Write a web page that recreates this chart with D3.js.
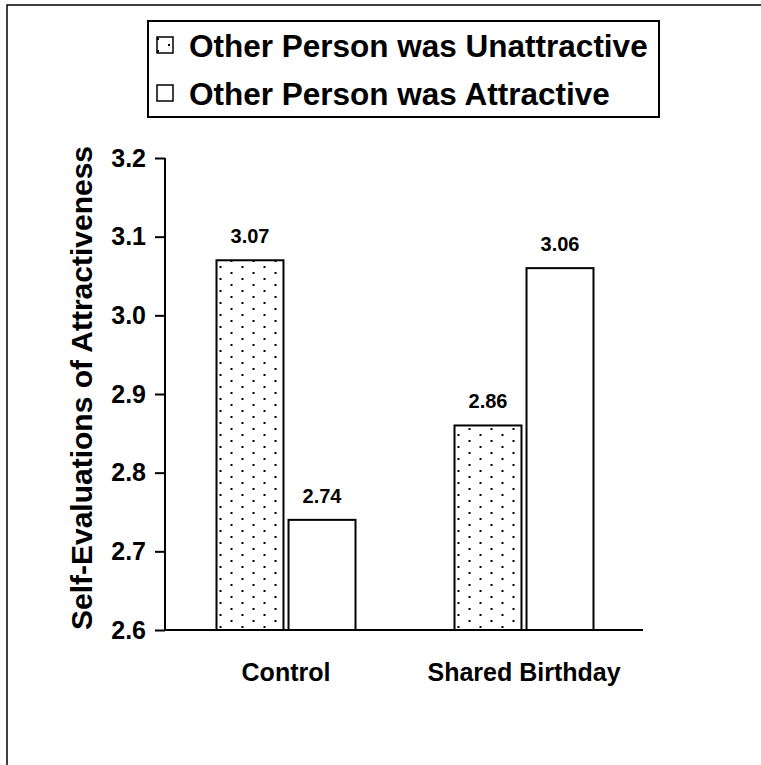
<!DOCTYPE html>
<html>
<head>
<meta charset="utf-8">
<script src="https://cdn.jsdelivr.net/npm/d3@7"></script>
<style>
  html, body { margin: 0; padding: 0; background: #fff; }
  svg { display: block; font-family: "Liberation Sans", Arial, sans-serif; font-weight: bold; }
</style>
</head>
<body>
<svg id="chart" width="761" height="765"></svg>
<script>
// Data
const categories = ["Control", "Shared Birthday"];
const seriesNames = ["Other Person was Unattractive", "Other Person was Attractive"];
const unattractive = [3.07, 2.86];
const attractive = [2.74, 3.06];
const yTicks = [2.6, 2.7, 2.8, 2.9, 3.0, 3.1, 3.2];
const yLabel = "Self-Evaluations of Attractiveness";

const rows = categories.map((c, i) => ({
  category: c,
  values: [
    { series: seriesNames[0], value: unattractive[i], idx: 0 },
    { series: seriesNames[1], value: attractive[i], idx: 1 }
  ]
}));

const svg = d3.select("#chart");
const FONT = "Liberation Sans, Arial, sans-serif";

// Dotted fill pattern for the first series (staggered 2px dots)
const defs = svg.append("defs");
const pat = defs.append("pattern")
  .attr("id", "dots")
  .attr("patternUnits", "userSpaceOnUse")
  .attr("width", 22).attr("height", 12);
pat.append("rect").attr("width", 22).attr("height", 12).attr("fill", "#fff");
pat.append("rect").attr("x", 3).attr("y", 2).attr("width", 2).attr("height", 2)
  .attr("fill", "#000").attr("shape-rendering", "crispEdges");
pat.append("rect").attr("x", 14).attr("y", 8).attr("width", 2).attr("height", 2)
  .attr("fill", "#000").attr("shape-rendering", "crispEdges");

const fills = ["url(#dots)", "#fff"];

// Outer frame (top and left edges)
svg.append("path")
  .attr("d", "M7,765 V5 H761")
  .attr("fill", "none").attr("stroke", "#000").attr("stroke-width", 1.5);

// Plot geometry
const plot = { left: 165, right: 643, top: 158, bottom: 630 };

const y = d3.scaleLinear().domain([2.6, 3.2]).range([plot.bottom, plot.top]);
const x0 = d3.scaleBand().domain(categories).range([167, plot.right])
  .paddingInner(0.416).paddingOuter(0.208);
const x1 = d3.scaleBand().domain([0, 1]).range([0, x0.bandwidth()])
  .paddingInner(0.07).paddingOuter(0);

// Bars
const groups = svg.append("g").selectAll("g")
  .data(rows).join("g")
  .attr("transform", d => `translate(${x0(d.category)},0)`);

groups.selectAll("rect")
  .data(d => d.values).join("rect")
  .attr("x", d => x1(d.idx))
  .attr("y", d => y(d.value))
  .attr("width", x1.bandwidth())
  .attr("height", d => y(2.6) - y(d.value))
  .attr("fill", d => fills[d.idx])
  .attr("stroke", "#000").attr("stroke-width", 2);

groups.selectAll("text.val")
  .data(d => d.values).join("text")
  .attr("class", "val")
  .attr("x", d => x1(d.idx) + x1.bandwidth() / 2)
  .attr("y", d => y(d.value) - 17)
  .attr("text-anchor", "middle")
  .attr("font-size", 20)
  .text(d => d.value.toFixed(2));

// Y axis
const yAxis = d3.axisLeft(y).tickValues(yTicks).tickFormat(d3.format(".1f"))
  .tickSize(10).tickPadding(9);
const gy = svg.append("g").attr("transform", `translate(${plot.left},0)`).call(yAxis);
gy.select(".domain").attr("stroke", "#000").attr("stroke-width", 2)
  .attr("d", `M0,${plot.top}V${plot.bottom}`);
gy.selectAll(".tick line").attr("stroke", "#000").attr("stroke-width", 2);
gy.selectAll(".tick text").attr("font-size", 25).attr("font-weight", "bold")
  .attr("font-family", FONT).attr("fill", "#000");

// X baseline and category labels
const xAxis = d3.axisBottom(x0).tickSize(0).tickPadding(33);
const gx = svg.append("g").attr("transform", `translate(0,${plot.bottom})`).call(xAxis);
gx.select(".domain").attr("stroke", "#000").attr("stroke-width", 2)
  .attr("d", `M${plot.left},0H${plot.right}`);
gx.selectAll(".tick text").attr("font-size", 25).attr("font-weight", "bold")
  .attr("font-family", FONT).attr("fill", "#000");

// Y axis title
svg.append("text")
  .attr("transform", `translate(92,${(plot.top + plot.bottom) / 2 - 6}) rotate(-90)`)
  .attr("text-anchor", "middle")
  .attr("font-size", 30)
  .text(yLabel);

// Legend
const legend = svg.append("g");
legend.append("rect")
  .attr("x", 148).attr("y", 21).attr("width", 511).attr("height", 96)
  .attr("fill", "#fff").attr("stroke", "#000").attr("stroke-width", 2);
const items = legend.selectAll("g.item")
  .data(seriesNames).join("g")
  .attr("class", "item")
  .attr("transform", (d, i) => `translate(0,${i * 48})`);
items.append("rect")
  .attr("x", 157).attr("y", 37).attr("width", 16).attr("height", 16)
  .attr("fill", (d, i) => fills[i]).attr("stroke", "#000").attr("stroke-width", 1.5);
items.append("text")
  .attr("x", 189).attr("y", 56.5)
  .attr("font-size", 31.5)
  .text(d => d);
</script>
</body>
</html>
